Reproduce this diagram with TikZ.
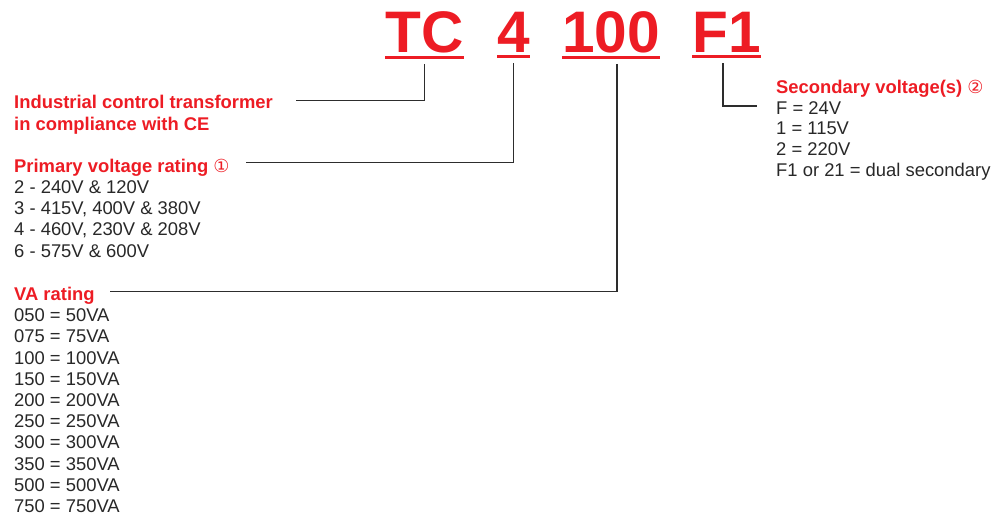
\documentclass[tikz,border=0pt]{standalone}
\usepackage{fontspec}
\setmainfont{Liberation Sans}
\newfontfamily\symfont{DejaVu Sans}
\usetikzlibrary{positioning}
\definecolor{codered}{RGB}{237,28,36}
\definecolor{txtgray}{RGB}{40,40,40}
\definecolor{lngray}{RGB}{45,45,45}
\newcommand{\circnum}[1]{{\symfont\mdseries\fontsize{18}{18}\selectfont #1}}
\tikzset{
  code/.style={text=codered, font=\fontsize{58.6}{60}\selectfont\bfseries, inner sep=0pt, anchor=base},
  uline/.style={codered, line width=3pt},
  head/.style={text=codered, font=\fontsize{18.4}{21.3}\selectfont\bfseries, inner sep=0pt, anchor=base west},
  item/.style={text=txtgray, font=\fontsize{18.4}{21.3}\selectfont, inner sep=0pt, anchor=base west},
  link/.style={lngray, line width=1.1pt},
}
\begin{document}
\begin{tikzpicture}[x=1pt,y=-1pt]
  \useasboundingbox (0,0) rectangle (995,516);

  % code letters, underlined
  \node[code] (tc) at (424.5,53) {TC};
  \node[code] (four) at (513.5,53) {4};
  \node[code] (hundred) at (611,53) {100};
  \node[code] (fone) at (726.5,53) {F1};
  \foreach \n in {tc,four,hundred,fone}
    \draw[uline] ([yshift=-3.5]\n.south west) -- ([yshift=-3.5]\n.south east);

  % left blocks
  \node[head] (ind1) at (14,109) {Industrial control transformer};
  \node[head] (ind2) at (14,130) {in compliance with CE};

  \node[head] (prim) at (14,172) {Primary voltage rating\hspace{5pt}\circnum{①}};
  \foreach \t [count=\i] in {2 - 240V \& 120V, {3 - 415V, 400V \& 380V},
      {4 - 460V, 230V \& 208V}, 6 - 575V \& 600V}
    \node[item] (prim\i) at (14,172+21.3*\i) {\t};

  \node[head] (va) at (14,300.5) {VA rating};
  \foreach \t [count=\i] in {050 = 50VA, 075 = 75VA, 100 = 100VA, 150 = 150VA,
      200 = 200VA, 250 = 250VA, 300 = 300VA, 350 = 350VA, 500 = 500VA, 750 = 750VA}
    \node[item] (va\i) at (14,300.5+21.2*\i) {\t};

  % right block
  \node[head] (sec) at (776,94) {Secondary voltage(s)\hspace{5pt}\circnum{②}};
  \foreach \t [count=\i] in {F = 24V, 1 = 115V, 2 = 220V, F1 or 21 = dual secondary}
    \node[item] (sec\i) at (776,94+20.5*\i) {\t};

  % connector ends
  \coordinate (indtip) at (296,100.5);
  \coordinate (primtip) at (246,162.3);
  \coordinate (vatip) at (110,291.7);
  \coordinate (sectip) at (757,106);

  \draw[link] ([yshift=-10]tc.south) |- (indtip);
  \draw[link] ([yshift=-10]four.south) |- (primtip);
  \draw[link] ([xshift=6,yshift=-10]hundred.south) |- (vatip);
  \draw[link] ([xshift=-3.5,yshift=-10]fone.south) |- (sectip);
\end{tikzpicture}
\end{document}
